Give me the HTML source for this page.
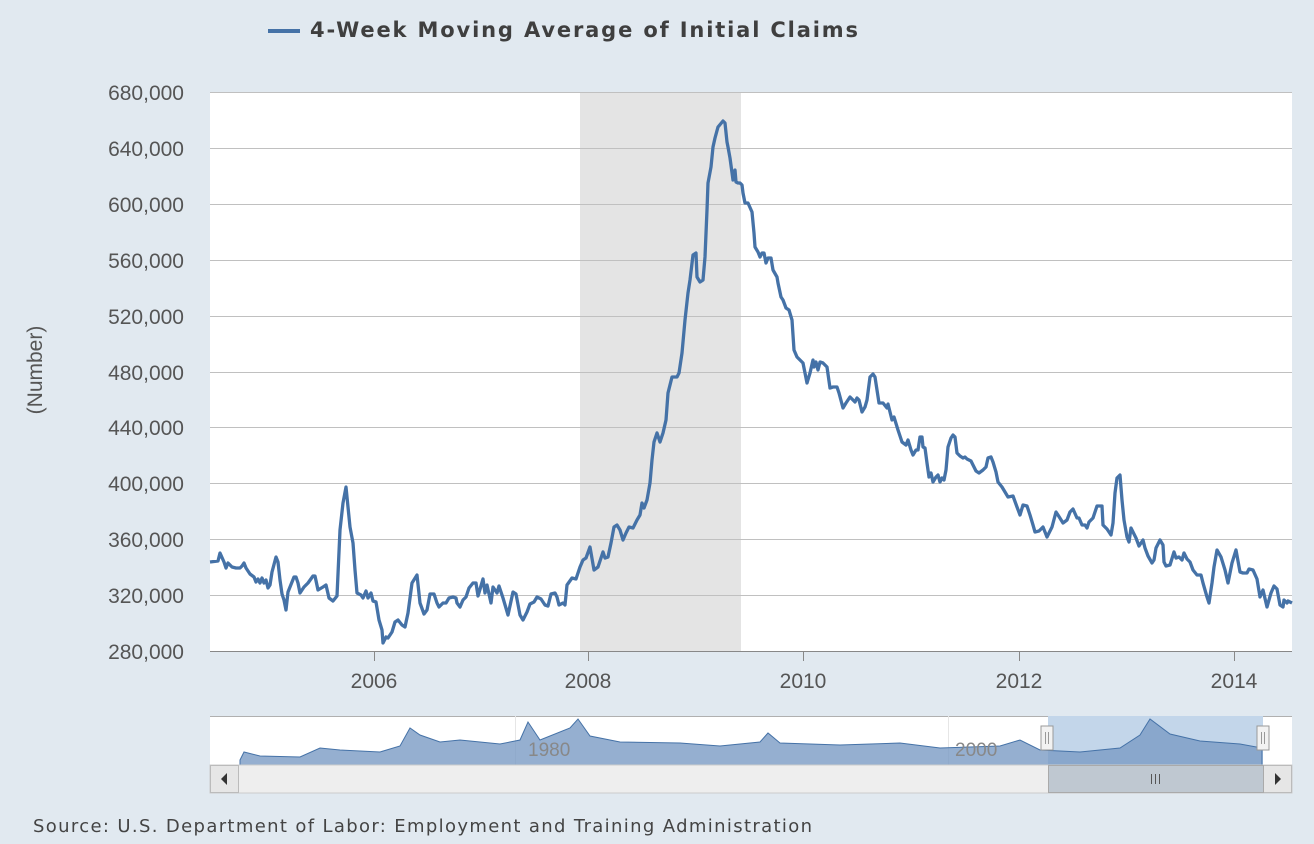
<!DOCTYPE html>
<html><head><style>
body{margin:0;width:1314px;height:844px;background:#e1e9f0;font-family:"Liberation Sans",sans-serif;overflow:hidden}
</style></head><body>
<svg width="1314" height="844" xmlns="http://www.w3.org/2000/svg" style="position:absolute;left:0;top:0">
<rect x="0" y="0" width="1314" height="844" fill="#e1e9f0"/>
<line x1="268" y1="31" x2="300" y2="31" stroke="#4572a7" stroke-width="4"/>
<text x="310" y="37" font-family="DejaVu Sans, sans-serif" font-size="21" font-weight="bold" fill="#3f3f3f" textLength="548" lengthAdjust="spacing">4-Week Moving Average of Initial Claims</text>
<rect x="210" y="92" width="1082" height="559" fill="#fff"/>
<rect x="580" y="92" width="161" height="559" fill="#e4e4e4"/>
<g stroke="#c0c0c0" stroke-width="1">
<line x1="210" y1="92.5" x2="1292" y2="92.5"/><line x1="210" y1="148.5" x2="1292" y2="148.5"/><line x1="210" y1="204.5" x2="1292" y2="204.5"/><line x1="210" y1="260.5" x2="1292" y2="260.5"/><line x1="210" y1="316.5" x2="1292" y2="316.5"/><line x1="210" y1="372.5" x2="1292" y2="372.5"/><line x1="210" y1="427.5" x2="1292" y2="427.5"/><line x1="210" y1="483.5" x2="1292" y2="483.5"/><line x1="210" y1="539.5" x2="1292" y2="539.5"/><line x1="210" y1="595.5" x2="1292" y2="595.5"/>
</g>
<line x1="210" y1="651.5" x2="1292" y2="651.5" stroke="#888" stroke-width="1"/>
<g stroke="#888"><line x1="374.5" y1="651" x2="374.5" y2="661"/><line x1="588.5" y1="651" x2="588.5" y2="661"/><line x1="803.5" y1="651" x2="803.5" y2="661"/><line x1="1019.5" y1="651" x2="1019.5" y2="661"/><line x1="1234.5" y1="651" x2="1234.5" y2="661"/></g>
<g font-size="21" fill="#555" text-anchor="end">
<text x="184" y="100">680,000</text><text x="184" y="156">640,000</text><text x="184" y="212">600,000</text><text x="184" y="268">560,000</text><text x="184" y="324">520,000</text><text x="184" y="380">480,000</text><text x="184" y="435">440,000</text><text x="184" y="491">400,000</text><text x="184" y="547">360,000</text><text x="184" y="603">320,000</text><text x="184" y="659">280,000</text>
</g>
<g font-size="21" fill="#555" text-anchor="middle">
<text x="374" y="688">2006</text><text x="588" y="688">2008</text><text x="803" y="688">2010</text><text x="1019" y="688">2012</text><text x="1234" y="688">2014</text>
</g>
<text transform="translate(42,370) rotate(-90)" font-size="21" fill="#555" text-anchor="middle">(Number)</text>
<polyline fill="none" stroke="#4572a7" stroke-width="3.3" stroke-linejoin="round" points="210,562 218,561 220,553 224,562 226,568 228,563 232,567 236,568 240,568 242,566 244,563 246,568 250,574 254,577 256,582 258,579 260,583 262,578 264,583 266,580 268,588 270,585 272,572 276,557 278,562 280,580 282,594 284,600 286,610 288,592 292,582 294,577 296,577 298,583 300,593 304,587 308,583 313,576 315,576 318,590 323,587 326,585 329,598 333,601 337,596 340,530 343,503 346,487 347,497 350,527 353,543 355,570 357,593 361,595 363,598 366,591 368,598 371,593 373,601 376,602 379,620 382,630 383,643 386,637 388,638 392,632 395,622 398,620 402,625 405,627 408,613 412,583 417,575 420,603 424,614 427,610 430,594 434,594 437,603 439,607 443,603 446,603 449,598 453,597 456,598 457,603 460,607 463,600 466,597 469,588 473,583 476,583 478,596 483,579 485,593 487,585 491,603 493,587 497,593 499,586 503,598 508,615 513,592 516,594 520,615 523,620 527,612 530,604 534,602 537,597 541,599 545,605 548,606 551,594 555,593 557,597 559,605 563,603 565,605 567,585 572,578 576,579 580,567 583,560 586,558 590,547 594,570 598,567 603,552 605,558 608,557 611,543 614,527 617,525 620,530 623,540 626,533 629,527 633,528 637,520 640,515 642,503 644,508 647,500 650,483 652,460 654,442 657,433 660,442 663,433 666,420 668,393 672,377 677,377 679,373 682,353 685,320 688,293 690,280 693,255 696,253 697,277 700,282 703,280 705,257 707,210 708,183 711,167 713,147 715,138 718,127 723,121 725,123 727,142 728,147 730,158 733,180 735,170 736,182 738,183 740,183 742,185 743,193 745,203 748,203 752,212 754,233 755,247 758,252 760,257 762,253 764,253 766,263 768,258 771,258 773,270 777,277 778,283 781,297 783,300 786,308 789,310 792,320 794,350 797,357 800,360 803,363 807,383 810,373 813,360 814,367 816,362 818,370 820,362 823,363 827,367 830,388 833,387 837,387 839,393 843,408 846,403 850,397 853,400 855,402 857,398 859,400 862,412 865,407 867,400 870,377 873,374 875,377 877,390 879,403 883,403 887,408 888,404 892,420 894,417 898,430 902,442 906,445 908,440 911,450 913,455 916,450 918,450 920,437 922,437 923,447 925,448 927,463 929,477 931,473 933,482 936,477 938,475 940,482 942,478 944,480 946,470 948,447 951,438 953,435 955,437 957,453 960,456 963,458 965,457 967,459 971,461 973,465 976,471 979,473 983,470 986,467 988,458 991,457 993,462 996,472 998,482 1002,487 1005,492 1008,497 1013,496 1017,507 1020,515 1023,505 1027,506 1030,515 1033,525 1035,532 1039,531 1043,527 1047,537 1052,527 1056,512 1058,515 1063,523 1067,520 1070,512 1073,509 1077,518 1079,518 1082,525 1085,525 1087,528 1089,522 1093,518 1097,506 1102,506 1103,525 1107,529 1111,535 1113,523 1115,493 1117,478 1120,475 1122,500 1124,520 1127,537 1129,542 1131,528 1133,532 1136,538 1139,546 1143,540 1145,548 1148,556 1152,563 1154,560 1156,548 1160,540 1163,545 1164,562 1166,566 1170,565 1174,552 1176,558 1179,557 1182,560 1184,553 1187,559 1190,562 1193,570 1197,575 1201,575 1203,583 1207,597 1209,603 1212,583 1214,567 1217,550 1221,557 1225,570 1228,583 1232,563 1236,550 1240,572 1243,573 1247,573 1249,569 1253,570 1257,579 1260,597 1263,590 1267,607 1271,593 1274,586 1277,589 1280,605 1283,607 1284,600 1287,603 1288,601 1292,603"/>
<!-- navigator -->
<rect x="210" y="716" width="1082" height="49" fill="#fff"/>
<line x1="210" y1="716.5" x2="1292" y2="716.5" stroke="#b0b0b0"/>
<line x1="515.5" y1="716" x2="515.5" y2="765" stroke="#e6e6e6"/><line x1="948.5" y1="716" x2="948.5" y2="765" stroke="#e6e6e6"/>
<rect x="1048" y="716" width="215" height="49" fill="#c3d6ea"/>
<path d="M240,760 L244,752 L260,756 L300,757 L320,748 L340,750 L380,752 L400,746 L410,728 L420,735 L440,742 L460,740 L500,744 L520,740 L528,722 L540,740 L570,728 L578,719 L590,736 L620,742 L680,743 L720,746 L760,742 L768,733 L780,743 L840,745 L900,743 L940,748 L1000,746 L1020,740 L1040,750 L1080,752 L1120,748 L1140,735 L1150,719 L1170,734 L1200,741 L1240,744 L1262,748 L1262,765 L240,765 Z" fill="#7a9bc4" fill-opacity="0.8" stroke="#4572a7" stroke-width="1"/>
<text x="528" y="756" font-size="19" fill="#888">1980</text>
<text x="955" y="756" font-size="19" fill="#888">2000</text>
<rect x="1041" y="726" width="12" height="24" fill="#f2f2f2" stroke="#999"/>
<rect x="1257" y="726" width="12" height="24" fill="#f2f2f2" stroke="#999"/>
<g stroke="#999"><line x1="1045.5" y1="732" x2="1045.5" y2="744"/><line x1="1048.5" y1="732" x2="1048.5" y2="744"/><line x1="1261.5" y1="732" x2="1261.5" y2="744"/><line x1="1264.5" y1="732" x2="1264.5" y2="744"/></g>
<rect x="210" y="765" width="1082" height="28" fill="#eeeeee" stroke="#ccc"/>
<rect x="210.5" y="765.5" width="28" height="27" fill="#e6e6e6" stroke="#bbb"/>
<rect x="1263.5" y="765.5" width="28" height="27" fill="#e6e6e6" stroke="#bbb"/>
<polygon points="227,773 221,779 227,785" fill="#333"/>
<polygon points="1275,773 1281,779 1275,785" fill="#333"/>
<rect x="1048.5" y="765.5" width="215" height="27" fill="#bfc8d1" stroke="#aaa"/>
<g stroke="#555"><line x1="1151.5" y1="774" x2="1151.5" y2="784"/><line x1="1155.5" y1="774" x2="1155.5" y2="784"/><line x1="1159.5" y1="774" x2="1159.5" y2="784"/></g>
<text x="33" y="832" font-family="DejaVu Sans, sans-serif" font-size="18" fill="#444" textLength="779" lengthAdjust="spacing">Source: U.S. Department of Labor: Employment and Training Administration</text>
</svg>
</body></html>
